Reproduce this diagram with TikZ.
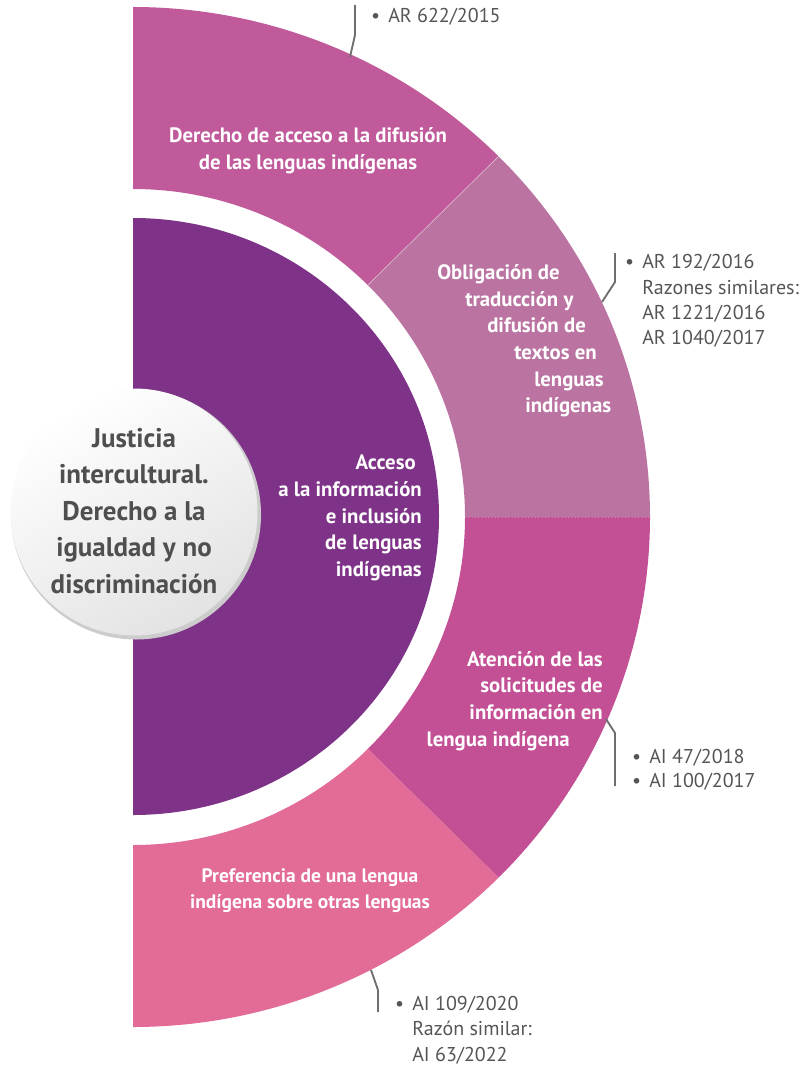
\documentclass[tikz,border=0pt]{standalone}
\usepackage{fontspec}
\setmainfont{PT Sans}
\usetikzlibrary{calc}
\definecolor{segA}{HTML}{C05A9B}
\definecolor{segB}{HTML}{BB74A1}
\definecolor{segC}{HTML}{C35095}
\definecolor{segD}{HTML}{E36B97}
\definecolor{innerpurple}{HTML}{7F3388}
\definecolor{txtgray}{HTML}{4F4F4F}
\definecolor{anngray}{HTML}{555555}
\definecolor{leadgray}{HTML}{6E6E6E}
\newcommand\ringseg[3]{\fill[#3] ($(C)+(#1:517 and 510)$) arc[start angle=#1,end angle=#2,x radius=517,y radius=510] -- ($(C)+(#2:332 and 328)$) arc[start angle=#2,end angle=#1,x radius=332,y radius=328] -- cycle;}
\newcommand\bul{\llap{\textbullet\hspace{6pt}}}
\begin{document}
\begin{tikzpicture}[x=0.75pt,y=0.75pt,
  segtext/.style={text=white,font=\bfseries\fontsize{15.6}{20}\selectfont,inner sep=0pt},
  anntext/.style={text=anngray,font=\fontsize{15}{19}\selectfont,align=left,anchor=west,inner sep=0pt},
  leader/.style={draw=leadgray,line width=1.4pt}]
\useasboundingbox (0,0) rectangle (804,-1070);
\coordinate (C) at (133,-517);
% outer ring segments
\ringseg{90}{45}{segA}
\ringseg{45}{0}{segB}
\ringseg{0}{-45}{segC}
\ringseg{-45}{-90}{segD}
\draw[white,opacity=.45,line width=.5pt] ($(C)+(45:332 and 328)$) -- ($(C)+(45:517 and 510)$);
\draw[white,opacity=.3,line width=.5pt,dotted] ($(C)+(0:332 and 328)$) -- ($(C)+(0:517 and 510)$);
% inner half disc
\fill[innerpurple] (133,-218) arc[start angle=90,end angle=-90,x radius=306,y radius=298.5] -- cycle;
% hub circle
\fill[gray!40] (136,-514.5) circle[radius=125];
\shade[top color=white,bottom color=gray!22,shading angle=30] (134,-512) circle[radius=123.5];
\node[text=txtgray,font=\bfseries\fontsize{20.2}{27.4}\selectfont,align=center] (hub) at (134,-511) {Justicia\\intercultural.\\Derecho a la\\igualdad y no\\discriminación};
% segment texts
\node[segtext,align=center] (s1) at (308,-151) {Derecho de acceso a la difusión\\de las lenguas indígenas};
\node[segtext,align=left,anchor=west] (s2) at (437,-341) {Obligación de\\\hspace*{21pt}traducción y\\\hspace*{37.5pt}difusión de\\\hspace*{57.75pt}textos en\\\hspace*{72.75pt}lenguas\\\hspace*{66pt}indígenas};
\node[segtext,align=right,anchor=east] (core) at (422,-518) {Acceso\hspace*{4.5pt}\\a la información\\e inclusión\\de lenguas\\indígenas};
\node[segtext,align=right,anchor=east] (s3) at (603,-701) {Atención de las\\solicitudes de\hspace*{9pt}\\información en\hspace*{17.25pt}\\lengua indígena\hspace*{24.75pt}};
\node[segtext,align=center,font=\bfseries\fontsize{14.6}{19.5}\selectfont] (s4) at (310,-891) {Preferencia de una lengua\\indígena sobre otras lenguas};
% annotations
\node[anntext] (a1) at (388,-17) {\bul AR 622/2015};
\node[anntext] (a2) at (642,-301) {\bul AR 192/2016\\Razones similares:\\AR 1221/2016\\AR 1040/2017};
\node[anntext,font=\fontsize{15}{18}\selectfont] (a3) at (649,-770) {\bul AI 47/2018\\\bul AI 100/2017};
\node[anntext] (a4) at (412,-1030) {\bul AI 109/2020\\Razón similar:\\AI 63/2022};
% leaders
\coordinate (l1s) at (350,-57); \coordinate (l1k) at (355,-35); \coordinate (l1e) at (355,-5);
\coordinate (l2s) at (602,-302); \coordinate (l2k) at (615,-282); \coordinate (l2e) at (615,-253);
\coordinate (l3s) at (606,-719); \coordinate (l3k) at (615,-733); \coordinate (l3e) at (615,-786);
\coordinate (l4s) at (371,-970); \coordinate (l4k) at (378,-990); \coordinate (l4e) at (378,-1012);
\draw[leader] (l1s) -- (l1k) -- (l1e);
\draw[leader] (l2s) -- (l2k) -- (l2e);
\draw[leader] (l3s) -- (l3k) -- (l3e);
\draw[leader] (l4s) -- (l4k) -- (l4e);
\end{tikzpicture}
\end{document}
